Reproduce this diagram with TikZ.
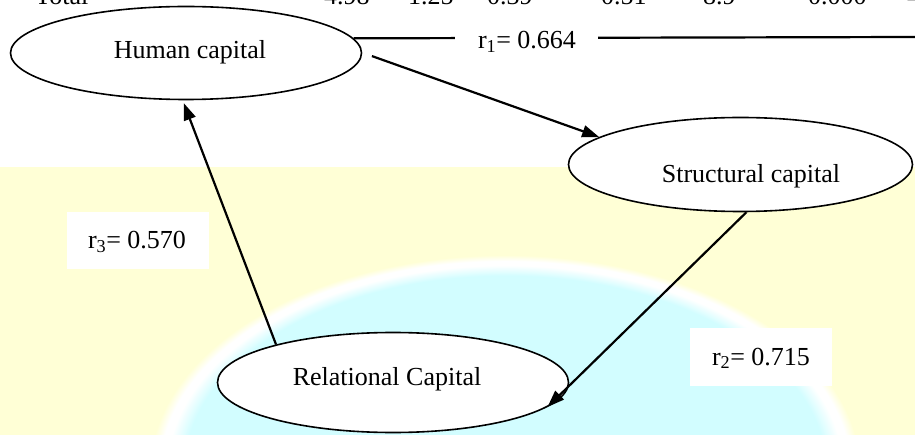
\documentclass[tikz,border=0pt]{standalone}
\usepackage{fontspec}
\setmainfont{Liberation Serif}
\usetikzlibrary{shapes.geometric,arrows.meta}
\definecolor{bgyellow}{RGB}{255,255,214}
\definecolor{bgcyan}{RGB}{210,253,255}
\pgfdeclareradialshading{blob}{\pgfpoint{0bp}{0bp}}{color(0bp)=(bgcyan); color(22.6bp)=(bgcyan); color(23.8bp)=(white); color(24.3bp)=(white); color(25bp)=(bgyellow); color(50bp)=(bgyellow)}
\tikzset{
  capnode/.style={ellipse, draw, line width=1.6pt, fill=white, inner sep=0pt},
  txt/.style={anchor=base, inner sep=0pt, font=\fontsize{26}{30}\selectfont},
  toptxt/.style={anchor=base west, inner sep=0pt, font=\fontsize{26}{30}\selectfont},
  wbox/.style={rectangle, fill=white, draw=none, inner sep=0pt},
  ln/.style={line width=2.2pt},
  arr/.style={line width=2.2pt, -{Triangle[length=17pt,width=12pt]}}
}
\begin{document}
\begin{tikzpicture}[x=1pt,y=-1pt]
\useasboundingbox (0,0) rectangle (915,435);
\clip (0,0) rectangle (915,435);
% background
\fill[bgyellow] (0,167) rectangle (915,435);
\shade[shading=blob] (505,470) ellipse [x radius=355, y radius=215];
% cut-off table row at the top
\node[toptxt] (tTotal) at (35,4.3) {Total};
\node[toptxt] (t1) at (324,4.3) {4.98};
\node[toptxt] (t2) at (408,4.3) {1.25};
\node[toptxt] (t3) at (487,4.3) {0.39};
\node[toptxt] (t4) at (601,4.3) {0.51};
\node[toptxt] (t5) at (703,4.3) {8.9};
\node[toptxt] (t6) at (808,4.3) {0.000};
\node[toptxt] (t7) at (907,4.3) {4};
% ellipses
\node[capnode, minimum width=351pt, minimum height=93pt] (H) at (186,53) {};
\node[capnode, minimum width=344pt, minimum height=94pt] (S) at (740.5,164.5) {};
\node[capnode, minimum width=351pt, minimum height=100pt] (R) at (393,382.5) {};
\node[txt] (Ht) at (190,59) {Human capital};
\node[txt] (St) at (751,183) {Structural capital};
\node[txt] (Rt) at (387,385) {Relational Capital};
% connectors
\coordinate (r1end) at (915,37);
\draw[ln] (H.5.5) -- (r1end);
\draw[arr] ([xshift=10pt]H.-1.3) -- (S.169.7);
\draw[arr] (S.-83.4) -- (R.-9);
\draw[arr, shorten >=3pt] (R.162.4) -- (H.-94.6);
% labels
\node[wbox, minimum width=143pt, minimum height=26pt] (r1box) at (526.5,40) {};
\node[txt] (r1) at (527,49) {r\textsubscript{1}= 0.664};
\node[wbox, minimum width=142pt, minimum height=57pt] (r3box) at (138,240.5) {};
\node[txt] (r3) at (137,249) {r\textsubscript{3}= 0.570};
\node[wbox, minimum width=142pt, minimum height=57pt] (r2box) at (761,357) {};
\node[txt] (r2) at (761,365) {r\textsubscript{2}= 0.715};
\end{tikzpicture}
\end{document}
